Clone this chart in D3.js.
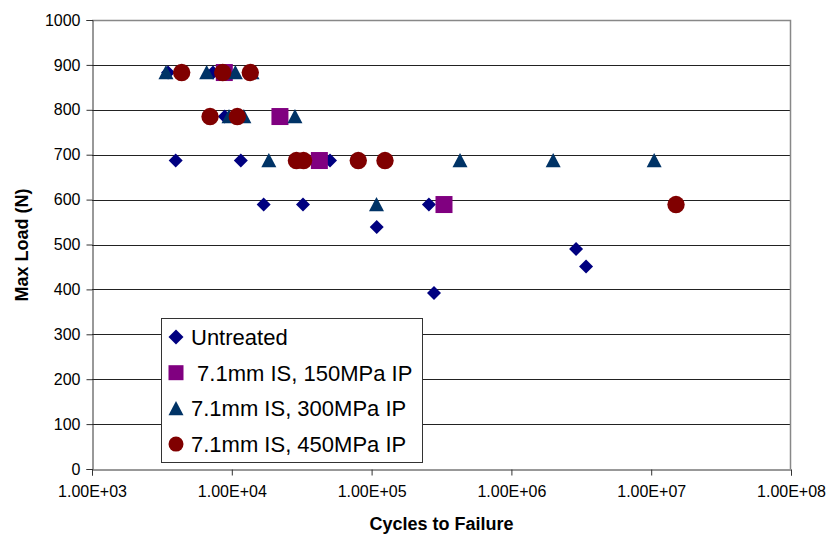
<!DOCTYPE html>
<html>
<head>
<meta charset="utf-8">
<script src="https://cdn.jsdelivr.net/npm/d3@7"></script>
<style>
  html, body { margin: 0; padding: 0; background: #fff; }
  svg { display: block; font-family: "Liberation Sans", Arial, sans-serif; }
</style>
</head>
<body>
<svg id="chart" width="830" height="536"></svg>
<script>
// Fatigue results: cycles to failure vs. max load, per treatment
const untreatedCycles = [3500, 7340, 8900, 3970, 11600, 50400, 16900, 32300, 257000, 108800, 2900000, 3420000, 279500];
const untreatedLoads  = [883, 883, 785, 687, 687, 687, 589, 589, 589, 539, 490, 451, 392];

const ip150Cycles = [8840, 22100, 42300, 329500];
const ip150Loads  = [883, 785, 687, 589];

const ip300Cycles = [3380, 6610, 10600, 13950, 9550, 12200, 28300, 18400, 429000, 1990000, 10500000, 108400];
const ip300Loads  = [883, 883, 883, 883, 785, 785, 785, 687, 687, 687, 687, 589];

const ip450Cycles = [4380, 8610, 13560, 6990, 10950, 29000, 32600, 80300, 124700, 15050000];
const ip450Loads  = [883, 883, 883, 785, 785, 687, 687, 687, 687, 589];

const seriesNames = ["Untreated", " 7.1mm IS, 150MPa IP", "7.1mm IS, 300MPa IP", "7.1mm IS, 450MPa IP"];

const xTickValues = [1e3, 1e4, 1e5, 1e6, 1e7, 1e8];
const xTickLabels = ["1.00E+03", "1.00E+04", "1.00E+05", "1.00E+06", "1.00E+07", "1.00E+08"];
const yTickValues = [0, 100, 200, 300, 400, 500, 600, 700, 800, 900, 1000];

const xTitle = "Cycles to Failure";
const yTitle = "Max Load (N)";

// ---- layout ----
const plot = { left: 92, right: 791, top: 20, bottom: 469 };
const svg = d3.select("#chart");

const x = d3.scaleLog().domain([1e3, 1e8]).range([plot.left, plot.right]);
const y = d3.scaleLinear().domain([0, 1000]).range([plot.bottom, plot.top]);

// marker shapes
const styles = [
  { color: "#000080", shape: "diamond", size: 7 },
  { color: "#800080", shape: "square", size: 8.5 },
  { color: "#003366", shape: "triangle", size: 7.5 },
  { color: "#800000", shape: "circle", size: 8.7 }
];

function drawMarker(g, style, cx, cy, s) {
  const c = style.color;
  if (style.shape === "diamond") {
    g.append("path").attr("d", `M${cx},${cy - s}L${cx + s},${cy}L${cx},${cy + s}L${cx - s},${cy}Z`).attr("fill", c);
  } else if (style.shape === "square") {
    g.append("rect").attr("x", cx - s).attr("y", cy - s).attr("width", 2 * s).attr("height", 2 * s).attr("fill", c);
  } else if (style.shape === "triangle") {
    g.append("path").attr("d", `M${cx},${cy - s}L${cx + s},${cy + s * 0.9}L${cx - s},${cy + s * 0.9}Z`).attr("fill", c);
  } else {
    g.append("circle").attr("cx", cx).attr("cy", cy).attr("r", s).attr("fill", c);
  }
}

// gridlines
const grid = svg.append("g");
yTickValues.filter(v => v > 0 && v < 1000).forEach(v => {
  const yy = Math.round(y(v)) + 0.5;
  grid.append("line").attr("x1", plot.left).attr("x2", plot.right)
    .attr("y1", yy).attr("y2", yy).attr("stroke", "#222").attr("stroke-width", 1);
});

// plot frame: grey top/right
svg.append("path")
  .attr("d", `M${plot.left},${plot.top + 0.5}H${plot.right - 0.5}V${plot.bottom}`)
  .attr("fill", "none").attr("stroke", "#888").attr("stroke-width", 1.5);

// y axis
const yAxis = d3.axisLeft(y).tickValues(yTickValues).tickFormat(d3.format("d")).tickSize(6).tickPadding(6);
const gy = svg.append("g").attr("transform", `translate(${plot.left + 0.5},0)`).call(yAxis);
gy.select(".domain").attr("stroke", "#333");
gy.selectAll(".tick line").attr("stroke", "#333");
gy.selectAll("text").attr("font-size", 16).attr("fill", "#000").attr("font-family", "Liberation Sans, Arial, sans-serif");

// x axis
const xAxis = d3.axisBottom(x).tickValues(xTickValues)
  .tickFormat((d, i) => xTickLabels[i]).tickSize(6).tickPadding(10);
const gx = svg.append("g").attr("transform", `translate(0,${plot.bottom + 0.5})`).call(xAxis);
gx.select(".domain").attr("stroke", "#333");
gx.selectAll(".tick line").attr("stroke", "#333");
gx.selectAll("text").attr("font-size", 16).attr("fill", "#000").attr("font-family", "Liberation Sans, Arial, sans-serif");

// axis titles
svg.append("text").attr("x", (plot.left + plot.right) / 2).attr("y", 530)
  .attr("text-anchor", "middle").attr("font-weight", "bold").attr("font-size", 18).text(xTitle);
svg.append("text").attr("transform", "translate(28,245) rotate(-90)")
  .attr("text-anchor", "middle").attr("font-weight", "bold").attr("font-size", 18).text(yTitle);

// data points, series drawn in order
const series = [
  [untreatedCycles, untreatedLoads],
  [ip150Cycles, ip150Loads],
  [ip300Cycles, ip300Loads],
  [ip450Cycles, ip450Loads]
];
const pts = svg.append("g");
series.forEach(([cx, ly], si) => {
  const g = pts.append("g");
  cx.forEach((c, i) => drawMarker(g, styles[si], x(c), y(ly[i]), styles[si].size));
});

// legend
const leg = svg.append("g");
leg.append("rect").attr("x", 161.5).attr("y", 318.5).attr("width", 261).attr("height", 144)
  .attr("fill", "#fff").attr("stroke", "#333").attr("stroke-width", 1);
seriesNames.forEach((name, i) => {
  const cy = 337 + i * 35.7;
  drawMarker(leg, styles[i], 176, cy, 7.5);
  leg.append("text").attr("x", 191).attr("y", cy + 8).attr("font-size", 22)
    .attr("xml:space", "preserve").style("white-space", "pre").text(name);
});
</script>
</body>
</html>
